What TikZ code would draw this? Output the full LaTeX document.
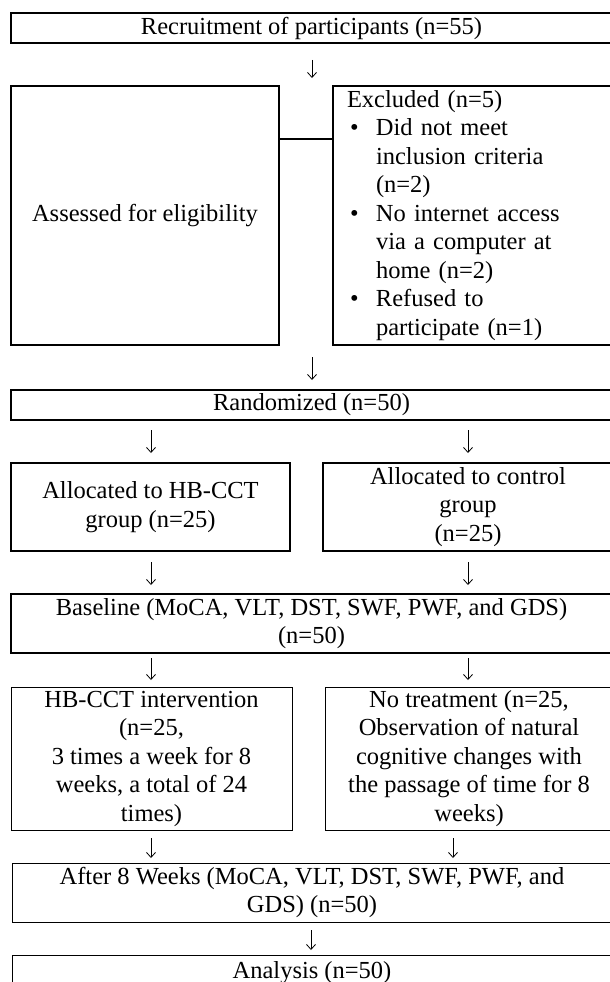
\documentclass[tikz,border=0pt]{standalone}
\usepackage{fontspec}
\setmainfont{Liberation Serif}
\usetikzlibrary{arrows.meta}
\begin{document}
\begin{tikzpicture}[x=1pt,y=-1pt,
  every node/.style={font=\fontsize{24.5pt}{28.5pt}\selectfont, inner sep=0pt},
  thickbox/.style={draw, line width=1.6pt, rectangle, align=center},
  thinbox/.style={draw, line width=1pt, rectangle, align=center},
  arr/.style={line width=0.8pt, -{Straight Barb[length=5pt,width=9pt]}}]
\useasboundingbox (0,0) rectangle (610,982);
\clip (0,0) rectangle (610,982);
\fill[white] (0,0) rectangle (610,982);

% boxes
\node[thickbox, minimum width=601pt, minimum height=30pt] (rec) at (311.5,28) {Recruitment of participants (n=55)};
\node[thickbox, minimum width=268pt, minimum height=259pt] (assess) at (145,215.5) {Assessed for eligibility};
\node[thickbox, minimum width=280pt, minimum height=259pt, text width=252pt, inner xsep=14pt, align=left] (excl) at (473,215.5)
  {Excluded (n=5)\\
   \makebox[29pt][l]{\hspace{3pt}•}Did not meet\\
   \hspace*{29pt}inclusion criteria\\
   \hspace*{29pt}(n=2)\\
   \makebox[29pt][l]{\hspace{3pt}•}No internet access\\
   \hspace*{29pt}via a computer at\\
   \hspace*{29pt}home (n=2)\\
   \makebox[29pt][l]{\hspace{3pt}•}Refused to\\
   \hspace*{29pt}participate (n=1)};
\node[thickbox, minimum width=601pt, minimum height=30pt] (rand) at (311.5,405) {Randomized (n=50)};
\node[thickbox, minimum width=279pt, minimum height=88pt] (allocA) at (150.5,507) {Allocated to HB-CCT\\group (n=25)};
\node[thickbox, minimum width=290pt, minimum height=88pt] (allocB) at (468,507) {Allocated to control\\group\\(n=25)};
\node[thickbox, minimum width=601pt, minimum height=59pt] (base) at (311.5,623.5) {Baseline (MoCA, VLT, DST, SWF, PWF, and GDS)\\(n=50)};
\node[thinbox, minimum width=281pt, minimum height=143pt] (interv) at (151.5,758.5) {HB-CCT intervention\\(n=25,\\3 times a week for 8\\weeks, a total of 24\\times)};
\node[thinbox, minimum width=288pt, minimum height=143pt] (notreat) at (469,758.5) {No treatment (n=25,\\Observation of natural\\cognitive changes with\\the passage of time for 8\\weeks)};
\node[thinbox, minimum width=600pt, minimum height=59pt] (after) at (312,892.5) {After 8 Weeks (MoCA, VLT, DST, SWF, PWF, and\\GDS) (n=50)};
\node[thinbox, minimum width=600pt, minimum height=35pt] (analysis) at (312,972.5) {Analysis (n=50)};

% connector between assessment and exclusion
\draw[line width=1.6pt] ([yshift=-54pt]assess.north east) -- ([yshift=-54pt]excl.north west);

% arrows
\coordinate (a1s) at (312,60);  \coordinate (a1e) at (312,78);
\coordinate (a2s) at (312,357); \coordinate (a2e) at (312,380);
\coordinate (a3ls) at (151,430); \coordinate (a3le) at (151,453);
\coordinate (a3rs) at (468,430); \coordinate (a3re) at (468,453);
\coordinate (a4ls) at (151,562); \coordinate (a4le) at (151,585);
\coordinate (a4rs) at (468,562); \coordinate (a4re) at (468,585);
\coordinate (a5ls) at (151,658); \coordinate (a5le) at (151,680);
\coordinate (a5rs) at (468,658); \coordinate (a5re) at (468,680);
\coordinate (a6ls) at (151,838); \coordinate (a6le) at (151,858);
\coordinate (a6rs) at (453,838); \coordinate (a6re) at (453,858);
\coordinate (a7s) at (311,930); \coordinate (a7e) at (311,950);
\foreach \s/\e in {a1s/a1e, a2s/a2e, a3ls/a3le, a3rs/a3re, a4ls/a4le, a4rs/a4re, a5ls/a5le, a5rs/a5re, a6ls/a6le, a6rs/a6re, a7s/a7e}
  \draw[arr] (\s) -- (\e);
\end{tikzpicture}
\end{document}
